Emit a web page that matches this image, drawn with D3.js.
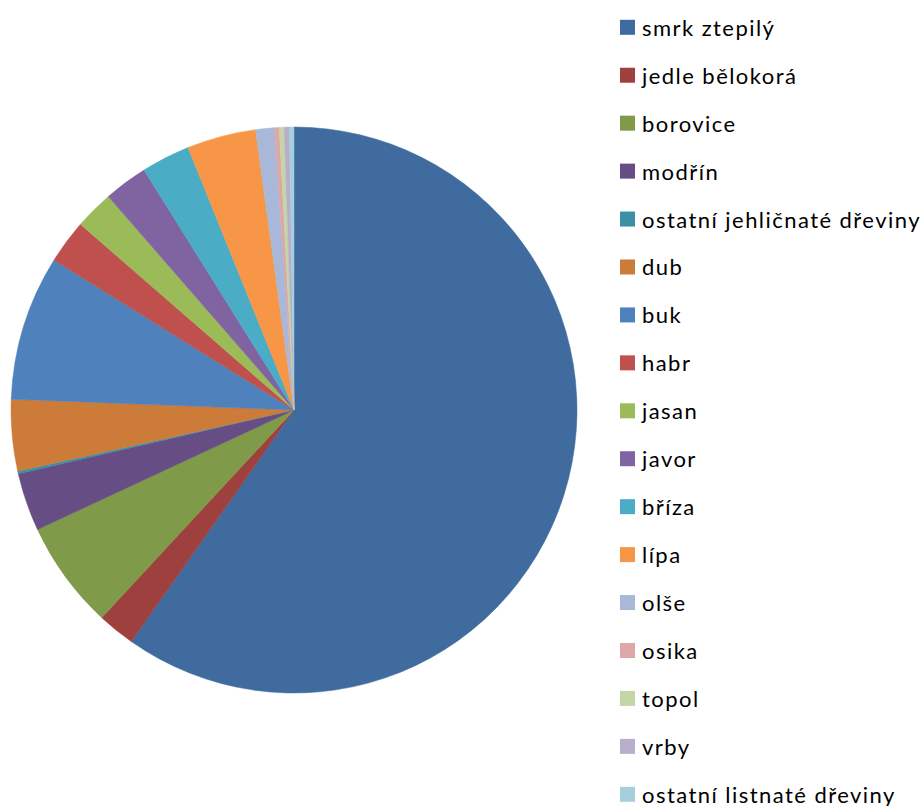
<!DOCTYPE html>
<html>
<head>
<meta charset="utf-8">
<script src="https://cdn.jsdelivr.net/npm/d3@7"></script>
<style>
  body { margin: 0; background: #fff; }
  svg { display: block; }
  text { font-family: Lato, "Liberation Sans", sans-serif; }
</style>
</head>
<body>
<svg width="923" height="806"></svg>
<script>
// species (Czech names) and their share in %
const species = [
  'smrk ztepilý', 'jedle bělokorá', 'borovice', 'modřín',
  'ostatní jehličnaté dřeviny', 'dub', 'buk', 'habr', 'jasan', 'javor',
  'bříza', 'lípa', 'olše', 'osika', 'topol', 'vrby', 'ostatní listnaté dřeviny'
]
const shares = [
  59.75, 2.14, 6.17, 3.33, 0.14, 4.08, 8.28, 2.5, 2.22, 2.5,
  2.78, 3.94, 1.06, 0.28, 0.28, 0.29, 0.26
]
const colors = [
  '#3f6b9e', '#9e413e', '#7f9a48', '#664e84', '#3c90a6', '#cd7b38',
  '#4f81bd', '#c0504d', '#9bbb59', '#8064a2', '#4bacc6', '#f79646',
  '#a9b8d8', '#dba8a7', '#c4d6a6', '#b8aecb', '#a5cfdd'
]

const svg = d3.select('svg')
const data = species.map((name, i) => ({ name, value: shares[i] }))

const color = d3.scaleOrdinal().domain(species).range(colors)

// pie, clockwise from 12 o'clock in data order
const pie = d3.pie().value(d => d.value).sort(null)
const arc = d3.arc().innerRadius(0).outerRadius(283)

const chart = svg.append('g').attr('transform', 'translate(294,410)')
chart.selectAll('path')
  .data(pie(data))
  .join('path')
  .attr('d', arc)
  .attr('fill', d => color(d.data.name))
  .attr('stroke', d => color(d.data.name))
  .attr('stroke-width', 0.5)

// legend on the right (last row runs off the bottom, as in the original)
const y = d3.scalePoint().domain(species).range([27.3, 794.3])
const legend = svg.append('g')
const item = legend.selectAll('g')
  .data(species)
  .join('g')
  .attr('transform', d => `translate(620,${y(d)})`)
item.append('rect')
  .attr('y', -7.5)
  .attr('width', 15)
  .attr('height', 15)
  .attr('fill', d => color(d))
item.append('text')
  .attr('x', 22)
  .attr('y', 8.5)
  .attr('font-size', 22)
  .attr('letter-spacing', 1.45)
  .attr('fill', '#000')
  .text(d => d)
</script>
</body>
</html>
